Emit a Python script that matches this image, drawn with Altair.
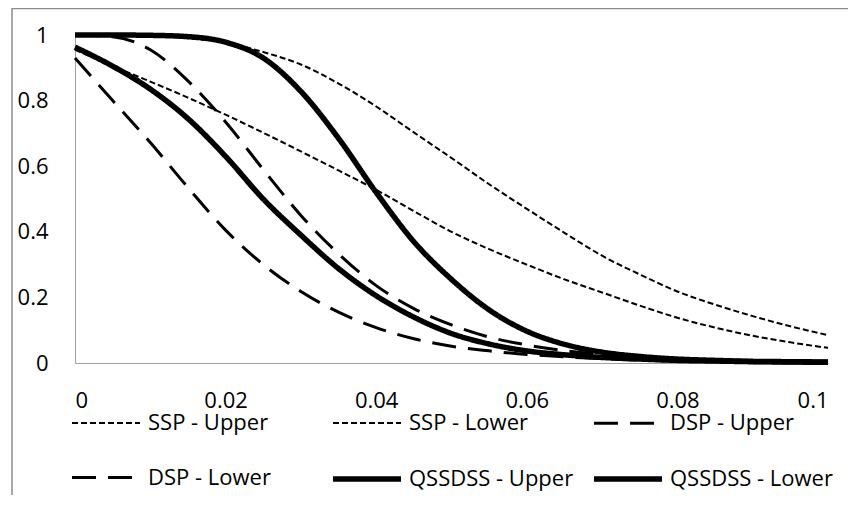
import altair as alt
import pandas as pd

x_vals = [0.0, 0.005, 0.01, 0.015, 0.02, 0.025, 0.03, 0.035, 0.04, 0.045, 0.05,
          0.055, 0.06, 0.065, 0.07, 0.075, 0.08, 0.085, 0.09, 0.095, 0.1]

ssp_upper = [1.0, 1.0, 0.998, 0.99, 0.977, 0.948, 0.91, 0.852, 0.782, 0.703, 0.625,
             0.545, 0.47, 0.397, 0.327, 0.27, 0.218, 0.178, 0.143, 0.112, 0.085]
ssp_lower = [0.955, 0.905, 0.858, 0.809, 0.757, 0.702, 0.645, 0.587, 0.528, 0.463, 0.40,
             0.347, 0.30, 0.255, 0.215, 0.175, 0.138, 0.108, 0.083, 0.063, 0.046]
dsp_upper = [1.0, 0.995, 0.955, 0.86, 0.735, 0.59, 0.45, 0.333, 0.236, 0.166, 0.116,
             0.079, 0.055, 0.038, 0.026, 0.018, 0.012, 0.008, 0.005, 0.003, 0.002]
dsp_lower = [0.93, 0.80, 0.672, 0.535, 0.405, 0.30, 0.218, 0.155, 0.108, 0.074, 0.051,
             0.037, 0.026, 0.019, 0.013, 0.009, 0.006, 0.004, 0.003, 0.002, 0.001]
qss_upper = [1.0, 1.0, 0.999, 0.995, 0.978, 0.93, 0.828, 0.685, 0.52, 0.37, 0.255,
             0.162, 0.097, 0.057, 0.033, 0.02, 0.012, 0.008, 0.005, 0.004, 0.003]
qss_lower = [0.963, 0.905, 0.835, 0.745, 0.63, 0.50, 0.39, 0.288, 0.205, 0.14, 0.09,
             0.058, 0.037, 0.025, 0.017, 0.012, 0.008, 0.006, 0.004, 0.003, 0.002]

series_names = ["SSP - Upper", "SSP - Lower", "DSP - Upper",
                "DSP - Lower", "QSSDSS - Upper", "QSSDSS - Lower"]
series_values = [ssp_upper, ssp_lower, dsp_upper, dsp_lower, qss_upper, qss_lower]
series_dash = [[6, 3], [6, 3], [24, 12], [24, 12], [1, 0], [1, 0]]
series_width = [2, 2, 3, 3, 5.5, 5.5]

x_ticks = [0, 0.02, 0.04, 0.06, 0.08, 0.1]
y_ticks = [0, 0.2, 0.4, 0.6, 0.8, 1]

rows = []
for name, vals in zip(series_names, series_values):
    for xv, yv in zip(x_vals, vals):
        rows.append({"series": name, "x": xv, "y": yv})
df = pd.DataFrame(rows)

# legend fills column by column (2 rows x 3 columns); order so rows read as in the original
legend_order = [series_names[i] for i in (0, 3, 1, 4, 2, 5)]
dash_map = dict(zip(series_names, series_dash))
width_map = dict(zip(series_names, series_width))

FONT = "Open Sans"

lines = alt.Chart(df).mark_line(color="black", interpolate="monotone").encode(
    x=alt.X("x:Q", scale=alt.Scale(domain=[0, 0.1], nice=False),
            axis=alt.Axis(values=x_ticks, format="~g", title=None, grid=False,
                          ticks=False, tickSize=0, labelPadding=27,
                          domainColor="#a0a0a0", labelFont=FONT, labelFontSize=22,
                          labelColor="black")),
    y=alt.Y("y:Q", scale=alt.Scale(domain=[0, 1], nice=False),
            axis=alt.Axis(values=y_ticks, format="~g", title=None, grid=False,
                          ticks=False, tickSize=0, labelPadding=27,
                          domainColor="#a0a0a0", labelFont=FONT, labelFontSize=22,
                          labelColor="black")),
    strokeDash=alt.StrokeDash(
        "series:N",
        scale=alt.Scale(domain=legend_order,
                        range=[dash_map[n] for n in legend_order]),
        legend=alt.Legend(title=None, orient="none", legendX=-6, legendY=352,
                          columns=3, symbolType="stroke", symbolSize=4624,
                          symbolStrokeColor="black", gridAlign="all",
                          columnPadding=9, rowPadding=7, labelOffset=5,
                          labelLimit=400,
                          labelFont=FONT, labelFontSize=22, labelColor="black")),
    strokeWidth=alt.StrokeWidth(
        "series:N",
        scale=alt.Scale(type="ordinal", domain=legend_order,
                        range=[width_map[n] for n in legend_order])),
    order=alt.Order("x:Q"),
)

border = alt.Chart(alt.Data(values=[{"a": 1}])).mark_rect(
    fill=None, filled=False, stroke="#8c8c8c", strokeWidth=1.5
).encode(
    x=alt.value(-63), y=alt.value(-26.5), x2=alt.value(900), y2=alt.value(600)
)

chart = alt.layer(border, lines).properties(
    width=753, height=328,
    autosize=alt.AutoSizeParams(type="none"),
    padding={"left": 67, "top": 27, "right": 20, "bottom": 132},
).configure_view(stroke=None)

chart.save("out.html", embed_options={"renderer": "svg", "actions": False})
